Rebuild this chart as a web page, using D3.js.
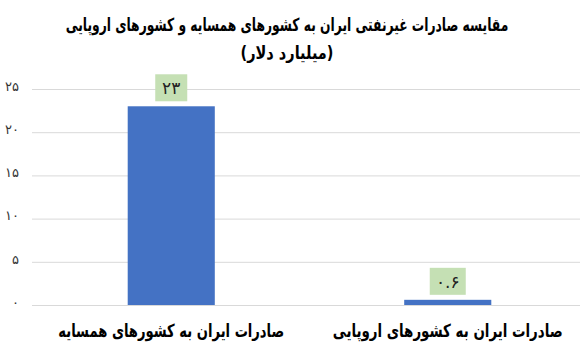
<!DOCTYPE html>
<html>
<head>
<meta charset="utf-8">
<script src="https://cdn.jsdelivr.net/npm/d3@7"></script>
<style>
  body { margin: 0; background: #fff; }
  text { font-family: "DejaVu Sans", sans-serif; }
</style>
</head>
<body>
<script>
// chart size
var w = 587;
var h = 357;

// data
var categories = ["صادرات ایران به کشورهای همسایه", "صادرات ایران به کشورهای اروپایی"];
var values = [23, 0.6];
var yTicks = [0, 5, 10, 15, 20, 25];
var titleLines = ["مقایسه صادرات غیرنفتی ایران به کشورهای همسایه و کشورهای اروپایی", "(میلیارد دلار)"];

var colorBar = "#4472C4";
var colorLabelBox = "#C5E0B4";
var colorGrid = "#D9D9D9";

// latin digits -> persian digits
function fa(n) {
	return String(n).replace(/[0-9]/g, function(c) { return "۰۱۲۳۴۵۶۷۸۹"[+c]; });
}

// squeeze a text horizontally to a target width (original uses a narrow font)
function squeeze(sel, cx, cy, width) {
	sel.attr("x", 0).attr("y", 0);
	var len = sel.node().getComputedTextLength();
	var sx = Math.min(1, width / len);
	sel.attr("transform", "translate(" + cx + "," + cy + ") scale(" + sx + ",1)");
}

var svg = d3.select("body")
			.append("svg")
			.attr("width", w)
			.attr("height", h);

var y = d3.scaleLinear().domain([0, 25]).range([305, 89]);
var x = d3.scaleBand().domain(categories).range([33, 586]).padding(0);
var barWidth = x.bandwidth() * 0.315;

// title
var titleWidths = [443, 93];
svg.selectAll("text.title")
	.data(titleLines)
	.enter()
	.append("text")
	.attr("class", "title")
	.attr("text-anchor", "middle")
	.attr("direction", "rtl")
	.attr("font-size", "18px")
	.attr("font-weight", "bold")
	.attr("fill", "#000")
	.text(function(d) { return d; })
	.each(function(d, i) { squeeze(d3.select(this), 287, 31 + i * 28, titleWidths[i]); });

// gridlines
svg.selectAll("line.grid")
	.data(yTicks)
	.enter()
	.append("line")
	.attr("class", "grid")
	.attr("x1", 32)
	.attr("x2", 580)
	.attr("y1", function(d) { return y(d) + 0.5; })
	.attr("y2", function(d) { return y(d) + 0.5; })
	.style("stroke", colorGrid)
	.style("stroke-width", 1);

// y tick labels
var yAxis = d3.axisLeft(y)
	.tickValues(yTicks)
	.tickSize(0)
	.tickPadding(0)
	.tickFormat(function(d) { return fa(d); });

var ya = svg.append("g")
	.attr("transform", "translate(19,0)")
	.call(yAxis);
ya.select(".domain").remove();
ya.selectAll("text")
	.attr("font-family", "DejaVu Sans, sans-serif")
	.attr("font-size", "13px")
	.attr("fill", "#333")
	.attr("dy", "0.1em");

// bars
svg.selectAll("rect.bar")
	.data(values)
	.enter()
	.append("rect")
	.attr("class", "bar")
	.attr("x", function(d, i) { return x(categories[i]) + x.bandwidth() / 2 - barWidth / 2; })
	.attr("y", function(d) { return y(d); })
	.attr("width", barWidth)
	.attr("height", function(d) { return y(0) - y(d); })
	.attr("fill", colorBar);

// value label boxes
var boxW = [32, 36];
svg.selectAll("rect.lbl")
	.data(values)
	.enter()
	.append("rect")
	.attr("class", "lbl")
	.attr("x", function(d, i) { return x(categories[i]) + x.bandwidth() / 2 - boxW[i] / 2; })
	.attr("y", function(d) { return y(d) - 32; })
	.attr("width", function(d, i) { return boxW[i]; })
	.attr("height", 27)
	.attr("fill", colorLabelBox);

svg.selectAll("text.lbl")
	.data(values)
	.enter()
	.append("text")
	.attr("class", "lbl")
	.attr("x", function(d, i) { return x(categories[i]) + x.bandwidth() / 2; })
	.attr("y", function(d) { return y(d) - 12; })
	.attr("text-anchor", "middle")
	.attr("font-size", "17px")
	.attr("fill", "#222")
	.text(function(d) { return fa(d); });

// category labels
var catWidths = [226, 230];
svg.selectAll("text.cat")
	.data(categories)
	.enter()
	.append("text")
	.attr("class", "cat")
	.attr("text-anchor", "middle")
	.attr("direction", "rtl")
	.attr("font-size", "18px")
	.attr("font-weight", "bold")
	.attr("fill", "#000")
	.text(function(d) { return d; })
	.each(function(d, i) { squeeze(d3.select(this), x(d) + x.bandwidth() / 2, 337, catWidths[i]); });
</script>
</body>
</html>
